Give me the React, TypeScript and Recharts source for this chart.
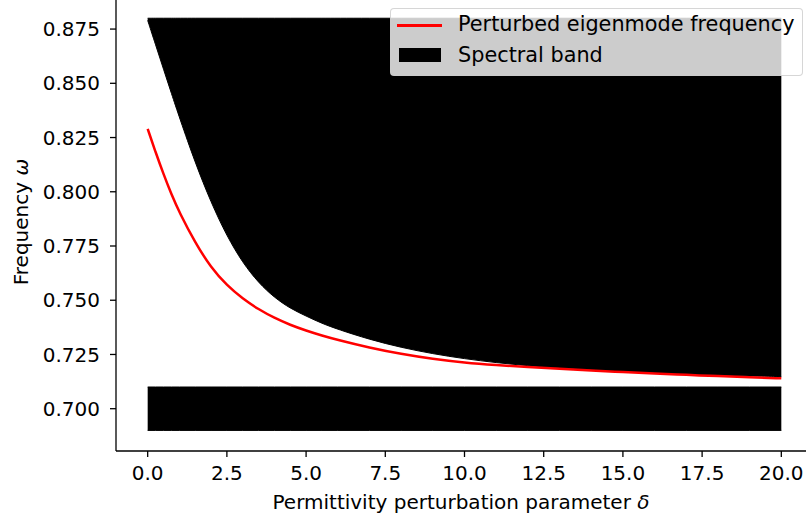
import { Area, ComposedChart, Line, XAxis, YAxis } from "recharts";

// Perturbation parameter samples along the x axis.
const deltas = [
  0, 0.25, 0.5, 0.75, 1, 1.5, 2, 2.5, 3, 3.5, 4, 4.5, 5, 5.5, 6, 7, 8, 9, 10, 11, 12, 13, 14, 15, 16, 17, 18, 19, 20,
];
// Lower edge of the upper spectral band (top edge is flat at bandTop).
const bandEdge = [
  0.879, 0.8677, 0.8565, 0.8453, 0.8343, 0.8133, 0.795, 0.7795, 0.7672, 0.758, 0.7512, 0.7462, 0.7427, 0.7393,
  0.7366, 0.7319, 0.7282, 0.7253, 0.723, 0.7212, 0.7198, 0.7187, 0.7178, 0.717, 0.7164, 0.7159, 0.7155, 0.7151,
  0.7148,
];
// Perturbed eigenmode frequency (red curve).
const eigenFreq = [
  0.829, 0.8182, 0.8081, 0.7988, 0.7905, 0.7765, 0.765, 0.7568, 0.7507, 0.7458, 0.7418, 0.7386, 0.736, 0.7337,
  0.7317, 0.7281, 0.7252, 0.7229, 0.7212, 0.7201, 0.7192, 0.7184, 0.7176, 0.7169, 0.7162, 0.7156, 0.715, 0.7145,
  0.714,
];
const bandTop = 0.88;
const gapLow = 0.69;
const gapHigh = 0.71;

const xTicks = [0, 2.5, 5, 7.5, 10, 12.5, 15, 17.5, 20];
const yTicks = [0.7, 0.725, 0.75, 0.775, 0.8, 0.825, 0.85, 0.875];

const FONT = "'DejaVu Sans', sans-serif";

const data = deltas.map((d, i) => ({
  delta: d,
  upper: [bandEdge[i], bandTop],
  lower: [gapLow, gapHigh],
  freq: eigenFreq[i],
}));

// matplotlib-style legend: translucent white frame over the band.
function LegendBox() {
  return (
    <div
      style={{
        position: "absolute",
        left: 390,
        top: 8,
        width: 411,
        height: 66,
        background: "rgba(255,255,255,0.8)",
        border: "1px solid rgba(204,204,204,0.8)",
        borderRadius: 4,
        fontFamily: FONT,
        fontSize: 20.8,
        color: "#000",
      }}
    >
      <div style={{ position: "absolute", left: 6, top: 15, width: 45, height: 2.5, background: "#ff0000" }} />
      <div style={{ position: "absolute", left: 67, top: 3, lineHeight: "24px", whiteSpace: "nowrap" }}>
        Perturbed eigenmode frequency
      </div>
      <div style={{ position: "absolute", left: 8, top: 39, width: 42, height: 14, background: "#000" }} />
      <div style={{ position: "absolute", left: 67, top: 34, lineHeight: "24px", whiteSpace: "nowrap" }}>
        Spectral band
      </div>
    </div>
  );
}

export default function App() {
  return (
    <div style={{ position: "absolute", left: 0, top: 0, width: 806, height: 521, overflow: "hidden", background: "#fff" }}>
      <ComposedChart width={820} height={521} data={data} margin={{ top: 0, right: 7, bottom: 40, left: 0 }}>
        <XAxis
          dataKey="delta"
          type="number"
          domain={[-1, 21]}
          ticks={xTicks}
          tickFormatter={(v: number) => v.toFixed(1)}
          height={30}
          stroke="#000"
          strokeWidth={1.3}
          tickSize={6}
          tickMargin={9}
          tick={{ fill: "#000", fontSize: 20, fontFamily: FONT }}
          label={{
            content: () => (
              <text x={461} y={509} textAnchor="middle" fill="#000" fontSize={20} fontFamily={FONT}>
                Permittivity perturbation parameter <tspan fontStyle="italic">δ</tspan>
              </text>
            ),
          }}
        />
        <YAxis
          type="number"
          domain={[0.6805, 0.8884]}
          ticks={yTicks}
          tickFormatter={(v: number) => v.toFixed(3)}
          width={116}
          stroke="#000"
          strokeWidth={1.3}
          tickSize={6}
          tickMargin={10}
          tick={{ fill: "#000", fontSize: 20, fontFamily: FONT }}
          label={{
            content: () => (
              <text
                x={28}
                y={222}
                transform="rotate(-90 28 222)"
                textAnchor="middle"
                fill="#000"
                fontSize={20}
                fontFamily={FONT}
              >
                Frequency <tspan fontStyle="italic">ω</tspan>
              </text>
            ),
          }}
        />
        <Area
          dataKey="upper"
          type="basis"
          fill="#000"
          fillOpacity={1}
          stroke="#000"
          strokeWidth={1}
          isAnimationActive={false}
        />
        <Area
          dataKey="lower"
          type="linear"
          fill="#000"
          fillOpacity={1}
          stroke="#000"
          strokeWidth={1}
          isAnimationActive={false}
        />
        <Line
          dataKey="freq"
          type="basis"
          stroke="#ff0000"
          strokeWidth={2.5}
          dot={false}
          isAnimationActive={false}
        />
      </ComposedChart>
      <LegendBox />
    </div>
  );
}
